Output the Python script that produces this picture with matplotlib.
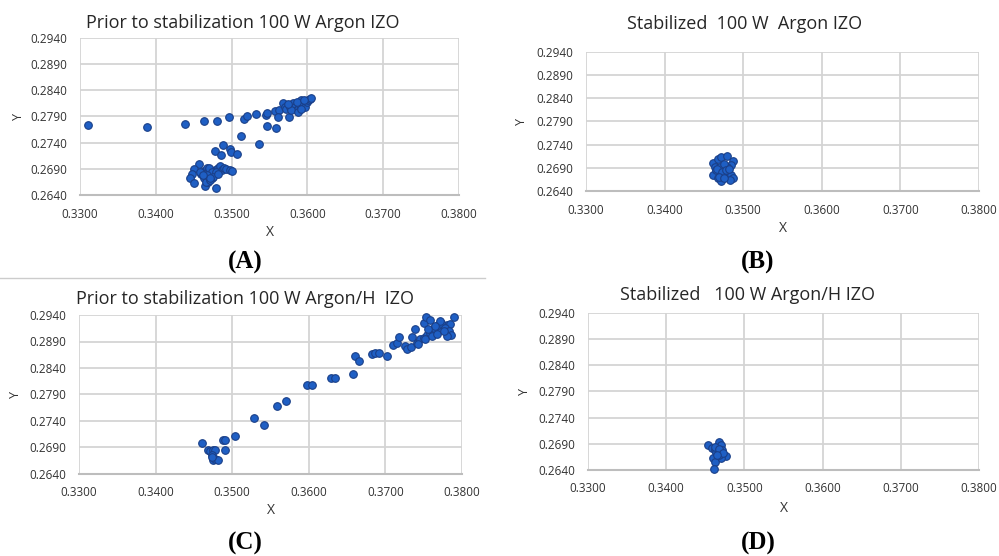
import matplotlib
matplotlib.use('Agg')
from matplotlib import pyplot as plt
from matplotlib.lines import Line2D

# 四个面板的色度坐标 (x, y)
a_x = [0.3310, 0.3389, 0.3439, 0.3464, 0.3481, 0.3497, 0.3516, 0.3520, 0.3532, 0.3546,
       0.3547, 0.3557, 0.3562, 0.3561, 0.3576, 0.3547, 0.3558, 0.3512, 0.3536, 0.3489,
       0.3478, 0.3486, 0.3498, 0.3499, 0.3507, 0.3457, 0.3450, 0.3448, 0.3445, 0.3450,
       0.3465, 0.3479,
       0.3460, 0.3463, 0.3467, 0.3469, 0.3471, 0.3465, 0.3467, 0.3469, 0.3474, 0.3476,
       0.3478, 0.3482, 0.3485, 0.3487, 0.3490, 0.3493, 0.3498, 0.3500, 0.3463, 0.3466,
       0.3470, 0.3474, 0.3480, 0.3476, 0.3471, 0.3458, 0.3482, 0.3468, 0.3472, 0.3462,
       0.3568, 0.3570, 0.3572, 0.3577, 0.3581, 0.3583, 0.3586, 0.3588, 0.3590, 0.3592,
       0.3594, 0.3597, 0.3599, 0.3601, 0.3603, 0.3605, 0.3579, 0.3588, 0.3592, 0.3575,
       0.3586, 0.3595]
a_y = [0.2774, 0.2769, 0.2775, 0.2782, 0.2782, 0.2789, 0.2786, 0.2791, 0.2794, 0.2792,
       0.2796, 0.2801, 0.2802, 0.2789, 0.2789, 0.2772, 0.2768, 0.2752, 0.2737, 0.2735,
       0.2725, 0.2717, 0.2728, 0.2723, 0.2718, 0.2699, 0.2690, 0.2681, 0.2673, 0.2663,
       0.2657, 0.2653,
       0.2681, 0.2686, 0.2691, 0.2684, 0.2678, 0.2675, 0.2669, 0.2664, 0.2672, 0.2681,
       0.2688, 0.2691, 0.2695, 0.2688, 0.2691, 0.2689, 0.2688, 0.2686, 0.2672, 0.2665,
       0.2691, 0.2684, 0.2684, 0.2675, 0.2669, 0.2684, 0.2681, 0.2679, 0.2673, 0.2678,
       0.2815, 0.2808, 0.2805, 0.2808, 0.2815, 0.2808, 0.2802, 0.2805, 0.2812, 0.2821,
       0.2815, 0.2808, 0.2818, 0.2821, 0.2824, 0.2826, 0.2802, 0.2799, 0.2805, 0.2814,
       0.2818, 0.2822]

b_x = [0.3462, 0.3468, 0.3472, 0.3479, 0.3487, 0.3485, 0.3464, 0.3466, 0.3462, 0.3468,
       0.3472, 0.3470, 0.3474, 0.3479, 0.3481, 0.3477, 0.3485, 0.3487, 0.3483, 0.3465,
       0.3470, 0.3476, 0.3467, 0.3473, 0.3478, 0.3482, 0.3469, 0.3475]
b_y = [0.2700, 0.2709, 0.2713, 0.2715, 0.2704, 0.2697, 0.2692, 0.2681, 0.2674, 0.2667,
       0.2661, 0.2678, 0.2685, 0.2692, 0.2681, 0.2674, 0.2674, 0.2667, 0.2663, 0.2685,
       0.2692, 0.2699, 0.2688, 0.2680, 0.2686, 0.2688, 0.2671, 0.2668]

c_x = [0.3460, 0.3469, 0.3471, 0.3475, 0.3478, 0.3473, 0.3475, 0.3478, 0.3482, 0.3474,
       0.3488, 0.3490, 0.3490, 0.3504, 0.3528, 0.3541, 0.3558, 0.3570, 0.3597, 0.3604,
       0.3629, 0.3634, 0.3658, 0.3660, 0.3666, 0.3682, 0.3686, 0.3691, 0.3702, 0.3710,
       0.3715, 0.3718, 0.3726, 0.3728, 0.3733, 0.3735, 0.3739,
       0.3741, 0.3745, 0.3750, 0.3754, 0.3758, 0.3763, 0.3767, 0.3771, 0.3776, 0.3780,
       0.3784, 0.3750, 0.3753, 0.3758, 0.3763, 0.3769, 0.3773, 0.3778, 0.3783, 0.3785,
       0.3780, 0.3789, 0.3743, 0.3752, 0.3761, 0.3767, 0.3776, 0.3771, 0.3765, 0.3756]
c_y = [0.2699, 0.2685, 0.2683, 0.2686, 0.2685, 0.2675, 0.2666, 0.2669, 0.2666, 0.2672,
       0.2704, 0.2705, 0.2686, 0.2712, 0.2746, 0.2732, 0.2768, 0.2778, 0.2808, 0.2808,
       0.2822, 0.2821, 0.2829, 0.2862, 0.2853, 0.2866, 0.2868, 0.2868, 0.2863, 0.2884,
       0.2887, 0.2899, 0.2882, 0.2876, 0.2879, 0.2898, 0.2913,
       0.2888, 0.2894, 0.2897, 0.2903, 0.2906, 0.2909, 0.2912, 0.2916, 0.2919, 0.2922,
       0.2923, 0.2924, 0.2936, 0.2930, 0.2916, 0.2922, 0.2925, 0.2916, 0.2909, 0.2903,
       0.2900, 0.2936, 0.2885, 0.2894, 0.2900, 0.2904, 0.2909, 0.2928, 0.2919, 0.2913]

d_x = [0.3453, 0.3458, 0.3462, 0.3466, 0.3468, 0.3470, 0.3471, 0.3476, 0.3470, 0.3464,
       0.3460, 0.3462, 0.3461, 0.3466, 0.3468, 0.3464, 0.3463, 0.3467, 0.3472, 0.3465]
d_y = [0.2687, 0.2682, 0.2678, 0.2685, 0.2694, 0.2688, 0.2678, 0.2667, 0.2662, 0.2666,
       0.2662, 0.2656, 0.2641, 0.2672, 0.2669, 0.2675, 0.2683, 0.2680, 0.2672, 0.2668]

x_ticks = [0.33, 0.34, 0.35, 0.36, 0.37, 0.38]
y_ticks = [0.264, 0.269, 0.274, 0.279, 0.284, 0.289, 0.294]

titles = ['Prior to stabilization 100 W Argon IZO',
          'Stabilized  100 W  Argon IZO',
          'Prior to stabilization 100 W Argon/H  IZO',
          'Stabilized   100 W Argon/H IZO']
tags = ['(A)', '(B)', '(C)', '(D)']

plt.rcParams['font.family'] = ['Open Sans', 'DejaVu Sans']

fig = plt.figure(figsize=(9.99, 5.56), dpi=100)

# 每个面板: 位置(像素: 左, 上, 右, 下), 标题中心, 标签中心, X标签 y, Y标签 x
panels = [
    (a_x, a_y, (80, 38, 459, 195), (243, 23), (245, 262), 233, 18),
    (b_x, b_y, (586, 52, 979, 191), (745, 24), (758, 262), 229, 521),
    (c_x, c_y, (79, 315, 462, 474), (245, 299), (245, 543), 511, 15),
    (d_x, d_y, (588, 313, 979, 470), (748, 295), (758, 543), 509, 524),
]

W, H = 999.0, 556.0
for i, (xs, ys, box, tpos, lpos, xl_y, yl_x) in enumerate(panels):
    l, t, r, b = box
    ax = fig.add_axes([l / W, 1 - b / H, (r - l) / W, (b - t) / H])
    ax.scatter(xs, ys, s=30, c='#1F5FC4', edgecolors='#1A3F88', linewidths=0.8,
               zorder=3, clip_on=False)
    ax.set_xlim(0.33, 0.38)
    ax.set_ylim(0.264, 0.294)
    ax.set_xticks(x_ticks)
    ax.set_yticks(y_ticks)
    ax.set_xticklabels(['%.4f' % v for v in x_ticks])
    ax.set_yticklabels(['%.4f' % v for v in y_ticks])
    ax.grid(True, color='#D4D4D4', linewidth=1.3)
    ax.set_axisbelow(True)
    for side in ['top', 'right', 'left']:
        ax.spines[side].set_visible(False)
    ax.spines['bottom'].set_color('#BDBDBD')
    ax.spines['bottom'].set_linewidth(1.5)
    ax.tick_params(axis='both', length=0, labelsize=8.5, colors='#333333', pad=9)

    # 轴标签
    ax.set_xlabel('X', fontsize=10, color='#333333', va='center')
    ax.xaxis.set_label_coords(0.5, (b - xl_y) / (b - t))
    ax.set_ylabel('Y', fontsize=9, color='#333333', va='center')
    ax.yaxis.set_label_coords((yl_x - l) / (r - l), 0.5)

    fig.text(tpos[0] / W, 1 - tpos[1] / H, titles[i], ha='center', va='center',
             fontsize=13, color='#262626')
    fig.text(lpos[0] / W, 1 - lpos[1] / H, tags[i], ha='center', va='center',
             fontsize=18, fontweight='bold', family='Liberation Serif', color='black')

# 上下两行之间的分隔线
fig.add_artist(Line2D([0, 0.485], [1 - 278 / H, 1 - 278 / H], color='#CCCCCC', linewidth=1))

fig.savefig('out.png', dpi=100)
